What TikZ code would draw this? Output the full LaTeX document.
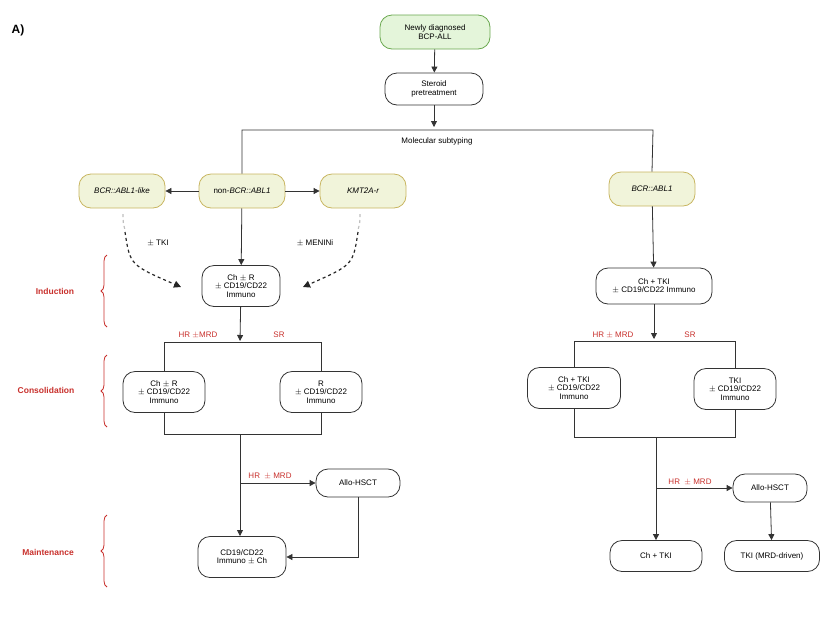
\documentclass[tikz,border=0pt]{standalone}
\usepackage{fontspec}
\setmainfont{Liberation Sans}
\usetikzlibrary{arrows.meta,decorations.pathreplacing}
\definecolor{gfill}{HTML}{E4F5DA}\definecolor{gdraw}{HTML}{6AA84F}
\definecolor{yfill}{HTML}{F1F4DA}\definecolor{ydraw}{HTML}{C8B560}
\definecolor{redc}{HTML}{C8302C}
\begin{document}
\begin{tikzpicture}[x=1pt,y=-1pt,font=\fontsize{8}{8.6}\selectfont,
 box/.style={draw=black!80,thick,rounded corners=12pt,align=center,inner sep=1pt},
 gbox/.style={box,fill=gfill,draw=gdraw},
 ybox/.style={box,fill=yfill,draw=ydraw,font=\fontsize{8}{9}\selectfont\itshape},
 ln/.style={thick,black!80},
 ar/.style={ln,-{Triangle[length=6pt,width=6pt]}},
 dar/.style={very thick,dashed,black!85,-{Triangle[length=7pt,width=7pt]}},
 lab/.style={text=redc},
 phase/.style={text=redc,font=\fontsize{8.5}{9}\selectfont\bfseries},
 brace/.style={redc,thick,decorate,decoration={brace,amplitude=6pt}}]
\useasboundingbox (0,0) rectangle (826,619);
\node[font=\bfseries\large] (A) at (18,30) {A)};
\node[gbox,minimum width=110,minimum height=34] (nd) at (435,32) {Newly diagnosed\\BCP-ALL};
\node[box,minimum width=98,minimum height=32] (st) at (434,89) {Steroid\\pretreatment};
\draw[ar] (nd) -- (st);
\draw[ar] (st) -- (434,127);
\node (mst) at (437,141) {Molecular subtyping};
\node[ybox,minimum width=86,minimum height=34] (bl) at (122,191) {BCR::ABL1-like};
\node[ybox,minimum width=86,minimum height=34] (nb) at (242,191) {\upshape non-\itshape BCR::ABL1};
\node[ybox,minimum width=86,minimum height=34] (km) at (363,191) {KMT2A-r};
\node[ybox,minimum width=86,minimum height=34] (bcr) at (652,189) {BCR::ABL1};
\draw[ln] (nb.north) |- (653,130) -- (bcr.north);
\draw[ar] (nb) -- (bl);
\draw[ar] (nb) -- (km);
\node[box,minimum width=78,minimum height=41] (ind) at (241,286) {Ch $\pm$ R\\$\pm$ CD19/CD22\\Immuno};
\draw[ar] (nb) -- (ind);
\draw[very thick,dashed,black!25] (123,214) .. controls (123,222) .. (125,230);
\draw[dar] (125,232) .. controls (130,265) .. (181,287);
\draw[very thick,dashed,black!25] (360,214) .. controls (360,222) .. (358,230);
\draw[dar] (358,232) .. controls (353,265) .. (303,287);
\node (tki) at (158,243) {$\pm$ TKI};
\node (men) at (315,243) {$\pm$ MENINi};
% consolidation left
\node[box,minimum width=82,minimum height=41] (cl) at (164,392) {Ch $\pm$ R\\$\pm$ CD19/CD22\\Immuno};
\node[box,minimum width=82,minimum height=41] (cr) at (321,392) {R\\$\pm$ CD19/CD22\\Immuno};
\coordinate (j1) at (240,342);
\draw[ar] (ind) -- (240,341);
\draw[ln] (cl.north) |- (cr.north |- j1) -- (cr.north);
\node[lab] at (198,335) {HR $\pm$MRD};
\node[lab] at (279,335) {SR};
\coordinate (j2) at (240,434);
\draw[ln] (cl.south) |- (cr.south |- j2) -- (cr.south);
\node[box,minimum width=88,minimum height=41] (mt) at (242,557) {CD19/CD22\\Immuno $\pm$ Ch};
\node[box,minimum width=84,minimum height=28] (al) at (358,483) {Allo-HSCT};
\draw[ar] (j2) -- (240,536);
\draw[ar] (240,483) -- (al.west);
\node[lab] at (270,476) {HR\ \ $\pm$ MRD};
\draw[ar] (al.south) |- (mt.east);
% braces and phases
\draw[brace] (107,327) -- (107,255);
\node[phase] at (55,291) {Induction};
\draw[brace] (107,427) -- (107,355);
\node[phase] at (46,390) {Consolidation};
\draw[brace] (107,587) -- (107,515);
\node[phase] at (48,552) {Maintenance};
% right branch
\node[box,minimum width=116,minimum height=36] (ri) at (654,286) {Ch + TKI\\$\pm$ CD19/CD22 Immuno};
\draw[ar] (bcr) -- (ri);
\node[box,minimum width=93,minimum height=41] (rcl) at (574,388) {Ch + TKI\\$\pm$ CD19/CD22\\Immuno};
\node[box,minimum width=82,minimum height=41] (rcr) at (735,389) {TKI\\$\pm$ CD19/CD22\\Immuno};
\draw[ar] (ri) -- (654,339);
\draw[ln] (rcl.north) |- (735,341) -- (rcr.north);
\node[lab] at (613,335) {HR $\pm$ MRD};
\node[lab] at (690,335) {SR};
\draw[ln] (rcl.south) |- (735,437) -- (rcr.south);
\node[box,minimum width=92,minimum height=31] (rm) at (656,556) {Ch + TKI};
\node[box,minimum width=74,minimum height=28] (ral) at (770,488) {Allo-HSCT};
\node[box,minimum width=95,minimum height=31] (rt) at (772,556) {TKI (MRD-driven)};
\draw[ar] (656,437) -- (rm.north);
\draw[ar] (656,488) -- (ral.west);
\node[lab] at (690,482) {HR\ \ $\pm$ MRD};
\draw[ar] (ral) -- (rt);
\end{tikzpicture}
\end{document}
